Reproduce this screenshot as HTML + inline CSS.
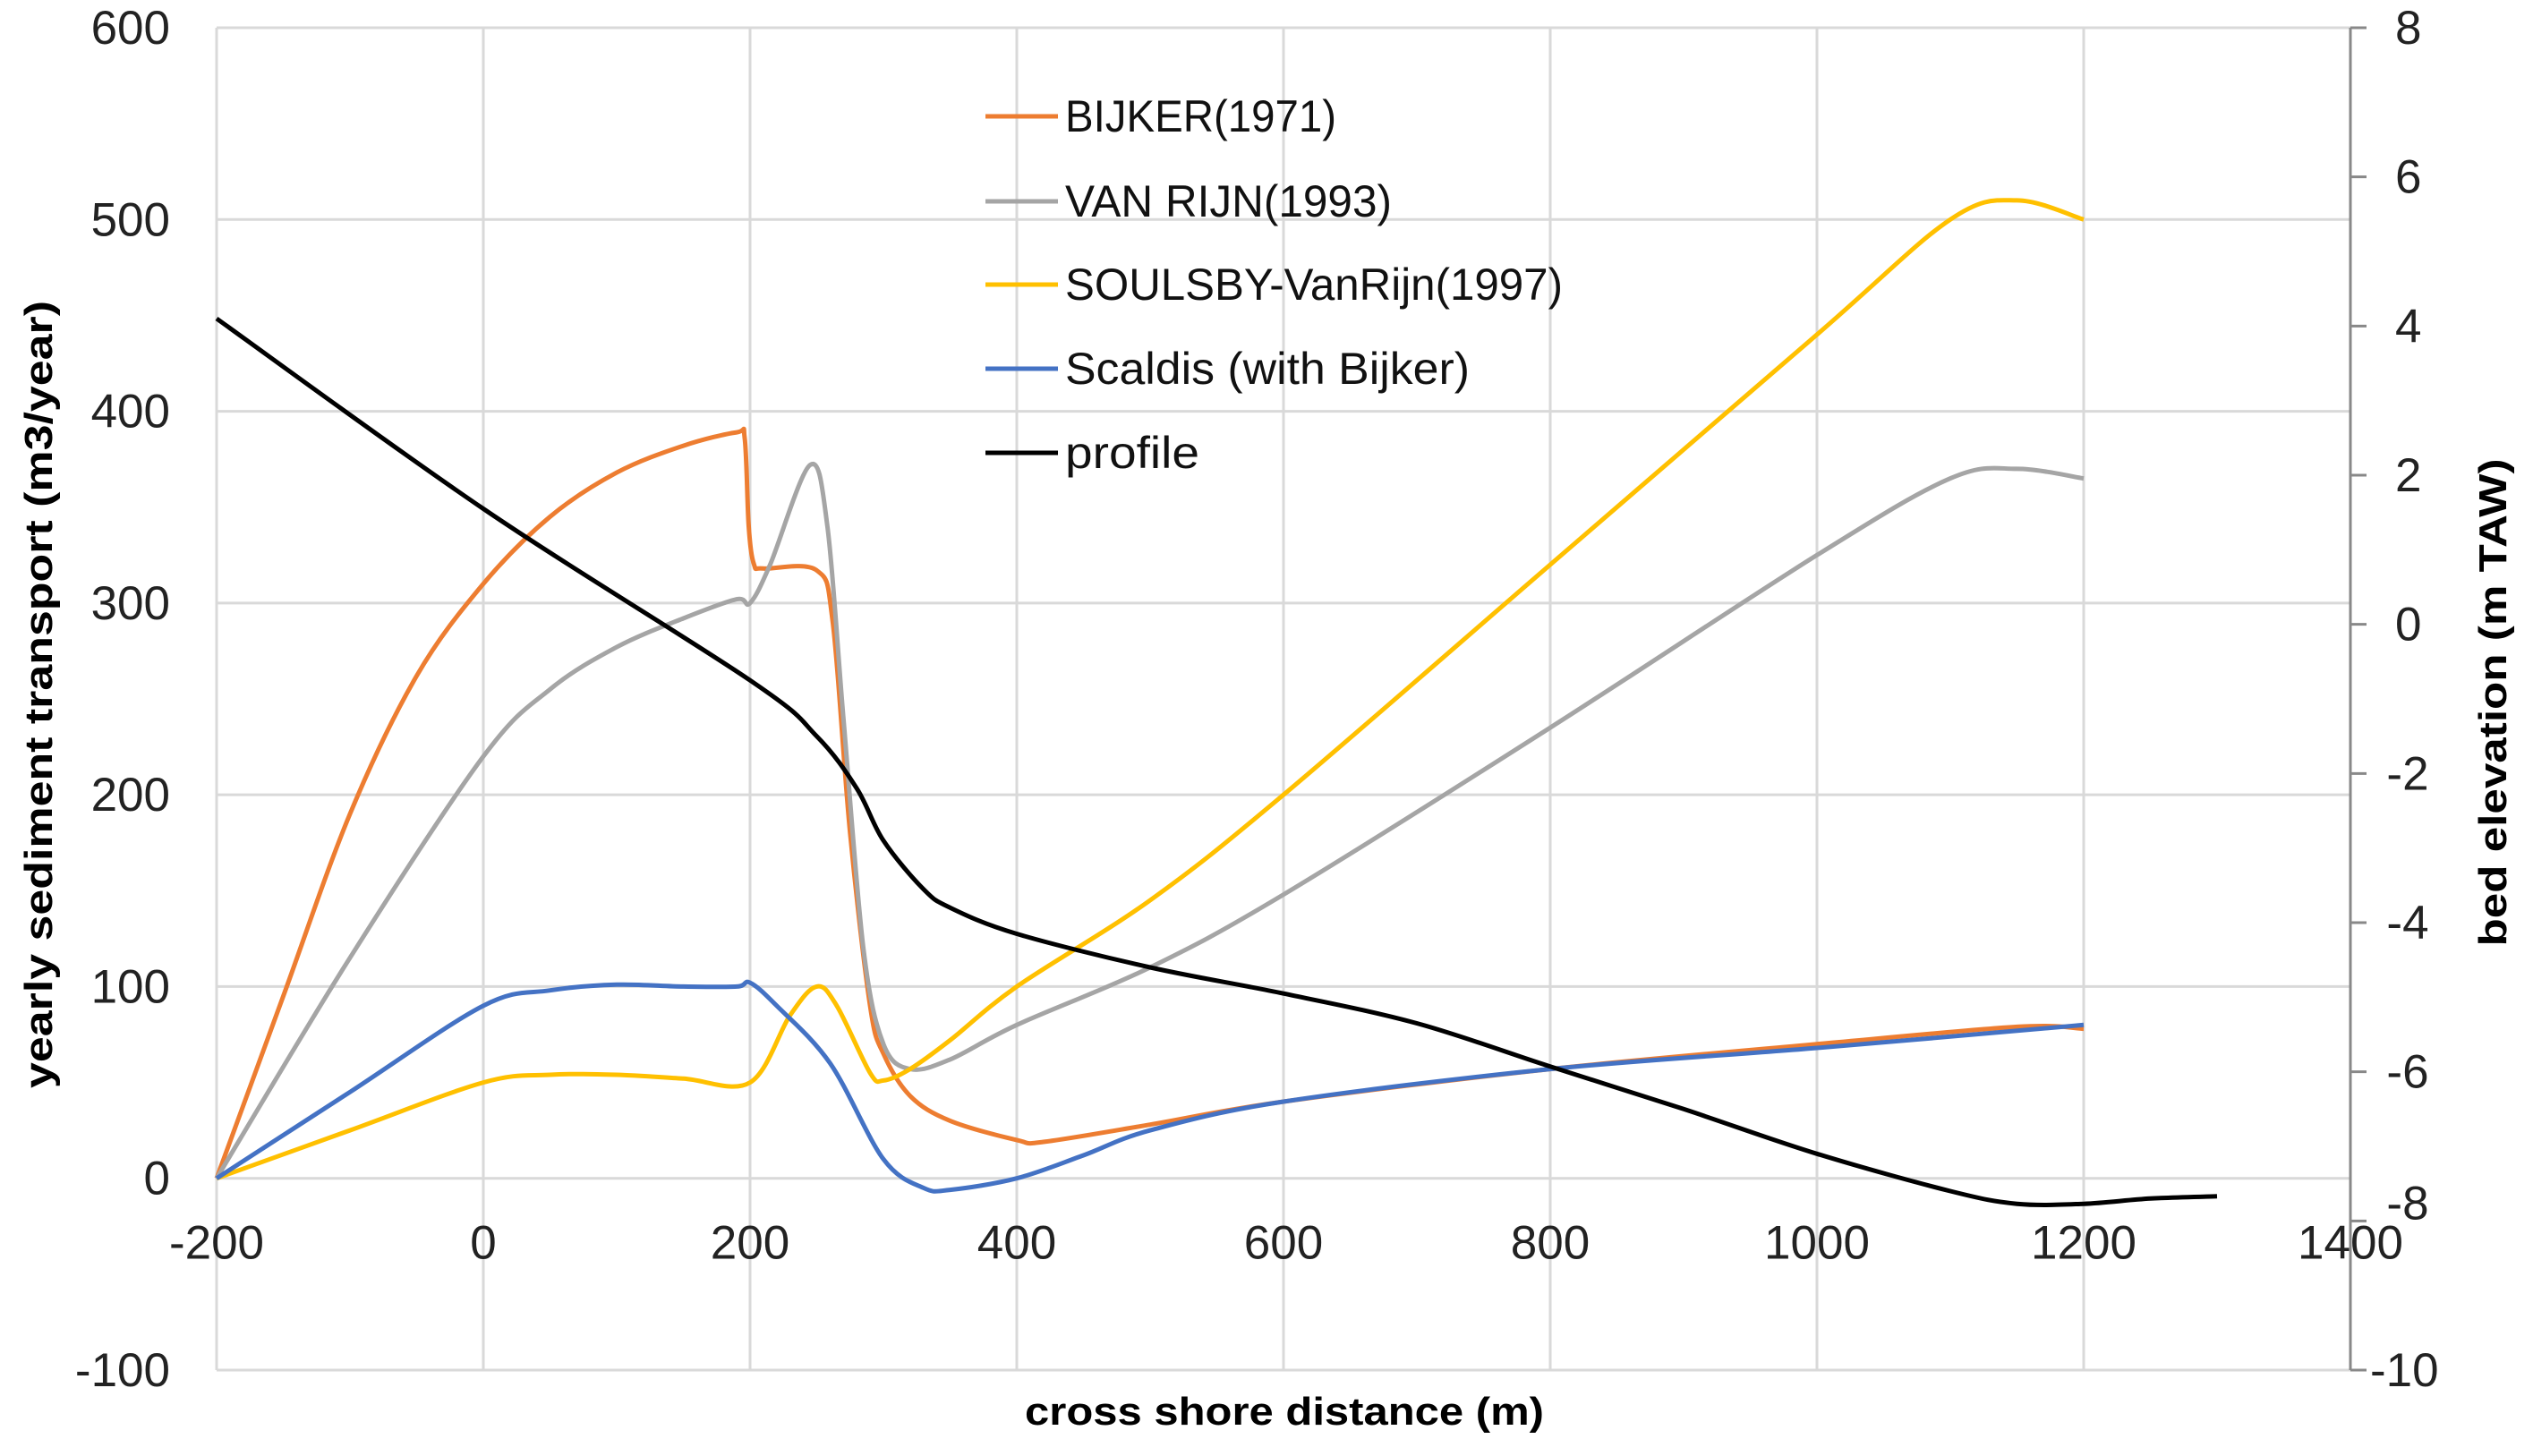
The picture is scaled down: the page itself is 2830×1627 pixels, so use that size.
<!DOCTYPE html>
<html><head><meta charset="utf-8"><style>
html,body{margin:0;padding:0;background:#fff;}
svg{display:block;font-family:"Liberation Sans Narrow","Liberation Sans",sans-serif;}
</style></head><body>
<svg id="chart" width="2830" height="1627" viewBox="0 0 2830 1627" xmlns="http://www.w3.org/2000/svg">
<g id="grid"></g>
<g id="axes"></g>
<g id="series"></g>
<g id="legend"></g>
<text transform="translate(58,776) rotate(-90)" text-anchor="middle" font-family="Liberation Sans" font-weight="bold" font-size="44" textLength="880" lengthAdjust="spacingAndGlyphs">yearly sediment transport (m3/year)</text>
<text transform="translate(2800,785) rotate(-90)" text-anchor="middle" font-family="Liberation Sans" font-weight="bold" font-size="44" textLength="545" lengthAdjust="spacingAndGlyphs">bed elevation (m TAW)</text>
<text x="1435" y="1592" text-anchor="middle" font-family="Liberation Sans" font-weight="bold" font-size="44" textLength="580" lengthAdjust="spacingAndGlyphs">cross shore distance (m)</text>
</svg>
<script>
const xTicks=[-200,0,200,400,600,800,1000,1200,1400];
const yTicks=[-100,0,100,200,300,400,500,600];
const y2Ticks=[-10,-8,-6,-4,-2,0,2,4,6,8];
const bijkerX=[-200,-150,-100,-50,0,50,100,150,190,196,199,203,210,250,262,275,290,300,320,350,400,420,500,600,800,1000,1150,1200];
const bijkerY=[0,95,190,262,310,345,368,382,389,386,340,320,318,317,290,180,90,65,43,30,20,19,28,40,57,70,79,78];
const vanrijnX=[-200,-100,0,50,100,150,190,200,215,245,258,270,285,300,320,350,400,500,600,800,1000,1100,1150,1200];
const vanrijnY=[0,115,220,255,277,292,302,300,320,372,340,240,120,70,57,62,80,110,148,235,325,365,370,365];
const soulsbyX=[-200,-100,0,50,100,150,200,230,250,265,290,300,320,350,400,500,600,800,1000,1100,1150,1200];
const soulsbyY=[0,25,50,54,54,52,50,85,100,90,55,51,57,72,100,145,200,320,440,500,510,500];
const scaldisX=[-200,-100,0,50,100,150,190,200,220,260,300,330,350,400,450,500,600,800,1000,1200];
const scaldisY=[0,45,90,98,101,100,100,102,90,60,10,-5,-6,0,12,25,40,57,68,80];
const profileX=[-200,0,200,250,280,300,330,350,400,500,600,700,800,900,1000,1100,1150,1200,1250,1300];
const profileY=[4.1,1.55,-0.75,-1.5,-2.2,-2.9,-3.55,-3.8,-4.15,-4.6,-4.95,-5.35,-5.93,-6.5,-7.1,-7.6,-7.77,-7.77,-7.7,-7.67];

const L=242,R=2626,T=31,B=1531;
const xs=v=>L+(v+200)/1600*(R-L);
const ys=v=>T+(600-v)/700*(B-T);
const y2s=v=>T+(8-v)/18*(B-T);
const NS="http://www.w3.org/2000/svg";
function mk(tag,attrs,parent){const e=document.createElementNS(NS,tag);for(const k in attrs)e.setAttribute(k,attrs[k]);parent.appendChild(e);return e;}
const grid=document.getElementById('grid'),axes=document.getElementById('axes'),ser=document.getElementById('series'),leg=document.getElementById('legend');

yTicks.forEach(t=>{
  const l=mk('line',{x1:L,x2:R,y1:ys(t),y2:ys(t),stroke:'#d9d9d9','stroke-width':3},grid);
  
  
  const tx=mk('text',{x:190,y:ys(t)+18,'text-anchor':'end','font-size':53,fill:'#222'},axes);
  tx.textContent=t;
  
  
});
xTicks.forEach(t=>{
  const l=mk('line',{x1:xs(t),x2:xs(t),y1:T,y2:B,stroke:'#d9d9d9','stroke-width':3},grid);
  
  
  const tx=mk('text',{x:xs(t),y:ys(0)+90,'text-anchor':'middle','font-size':53,fill:'#222'},axes);
  tx.textContent=t;
  
  
});
const ra=mk('line',{x1:R,x2:R,y1:T,y2:B,stroke:'#888','stroke-width':3},axes);


y2Ticks.forEach(t=>{
  const tk=mk('line',{x1:R,x2:R+18,y1:y2s(t),y2:y2s(t),stroke:'#888','stroke-width':3},axes);
  
  
  const tx=mk('text',{x:t<=-10?2648:2676,y:y2s(t)+(t==-8?-2:18),'text-anchor':t<0&&t>-10?'middle':'start','font-size':53,fill:'#222'},axes);
  if(t<0&&t>-10)tx.setAttribute('x',2690);
  tx.textContent=t;
  
  
});

function smooth(pts){
  let d='M'+pts[0][0]+','+pts[0][1];
  for(let i=0;i<pts.length-1;i++){
    const p0=pts[Math.max(0,i-1)],p1=pts[i],p2=pts[i+1],p3=pts[Math.min(pts.length-1,i+2)];
    const c1x=p1[0]+(p2[0]-p0[0])/6,c1y=p1[1]+(p2[1]-p0[1])/6;
    const c2x=p2[0]-(p3[0]-p1[0])/6,c2y=p2[1]-(p3[1]-p1[1])/6;
    d+=' C'+c1x.toFixed(1)+','+c1y.toFixed(1)+' '+c2x.toFixed(1)+','+c2y.toFixed(1)+' '+p2[0].toFixed(1)+','+p2[1].toFixed(1);
  }
  return d;
}
const seriesDefs=[
  {name:'bijker-line',xv:bijkerX,yv:bijkerY,sc:ys,c:'#ed7d31'},
  {name:'van-rijn-line',xv:vanrijnX,yv:vanrijnY,sc:ys,c:'#a5a5a5'},
  {name:'soulsby-line',xv:soulsbyX,yv:soulsbyY,sc:ys,c:'#ffc000'},
  {name:'scaldis-line',xv:scaldisX,yv:scaldisY,sc:ys,c:'#4472c4'},
  {name:'profile-line',xv:profileX,yv:profileY,sc:y2s,c:'#000000'}
];
seriesDefs.forEach(s=>{
  const pts=s.xv.map((x,i)=>[xs(x),s.sc(s.yv[i])]);
  const p=mk('path',{d:smooth(pts),fill:'none',stroke:s.c,'stroke-width':5,'stroke-linejoin':'round'},ser);
  
  
});
const legItems=[['BIJKER(1971)','#ed7d31',303],['VAN RIJN(1993)','#a5a5a5',365],['SOULSBY-VanRijn(1997)','#ffc000',556],['Scaldis (with Bijker)','#4472c4',452],['profile','#000',150]];
const legRows=[130,225,318,412,506];
legItems.forEach((it,i)=>{
  const g=mk('g',{},leg);
  
  
  mk('line',{x1:1101,x2:1182,y1:legRows[i],y2:legRows[i],stroke:it[1],'stroke-width':5},g);
  const tx=mk('text',{x:1190,y:legRows[i]+17,'font-size':50,fill:'#111',textLength:it[2],lengthAdjust:'spacingAndGlyphs'},g);
  tx.textContent=it[0];
});
</script>
</body></html>
